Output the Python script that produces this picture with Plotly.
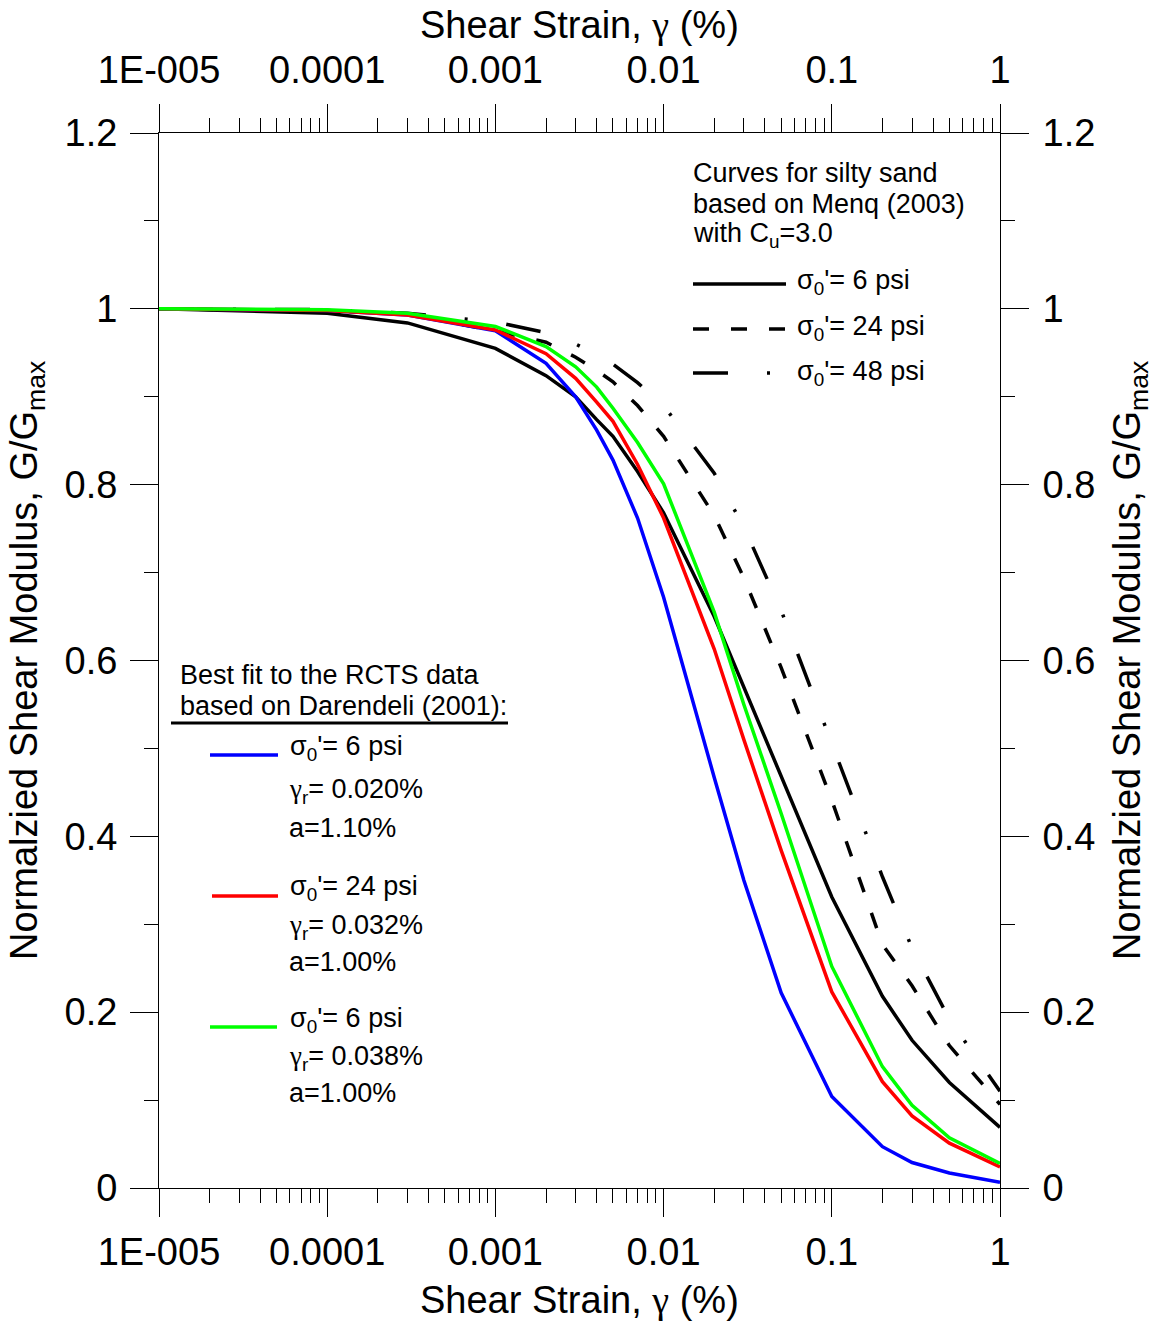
import plotly.graph_objects as go

# Shear strain (%) at which each curve is tabulated
strain = [1e-5, 1e-4, 3e-4, 1e-3, 2e-3, 3e-3, 4e-3, 5e-3, 7e-3, 0.01, 0.02,
          0.03, 0.05, 0.1, 0.2, 0.3, 0.5, 1.0]

# Menq (2003) silty sand curves, Cu = 3.0
menq_6psi = [1.0, 0.995, 0.984, 0.955, 0.924, 0.900, 0.874, 0.855, 0.815, 0.768, 0.650,
             0.570, 0.467, 0.331, 0.218, 0.168, 0.120, 0.069]
menq_24psi = [1.0, 0.998, 0.994, 0.975, 0.962, 0.945, 0.930, 0.917, 0.890, 0.855, 0.765,
              0.694, 0.592, 0.441, 0.277, 0.230, 0.162, 0.095]
menq_48psi = [1.0, 0.999, 0.995, 0.985, 0.973, 0.960, 0.948, 0.937, 0.916, 0.890, 0.813,
              0.752, 0.657, 0.505, 0.354, 0.273, 0.192, 0.110]

# Darendeli (2001) best fits to the RCTS data
fit_6psi = [1.0, 0.998, 0.993, 0.975, 0.938, 0.900, 0.862, 0.828, 0.762, 0.672, 0.467,
            0.350, 0.222, 0.104, 0.047, 0.029, 0.017, 0.0065]
fit_24psi = [1.0, 0.998, 0.993, 0.976, 0.949, 0.921, 0.894, 0.872, 0.823, 0.762, 0.613,
             0.510, 0.384, 0.223, 0.121, 0.082, 0.051, 0.024]
fit_48psi = [1.0, 0.999, 0.995, 0.980, 0.957, 0.934, 0.911, 0.887, 0.848, 0.801, 0.655,
             0.550, 0.426, 0.252, 0.138, 0.094, 0.057, 0.028]

# Axis ticks
x_tick_vals = [1e-5, 1e-4, 1e-3, 1e-2, 1e-1, 1.0]
x_tick_text = ["1E-005", "0.0001", "0.001", "0.01", "0.1", "1"]
x_minor_vals = [m * 10.0 ** e for e in range(-5, 0) for m in range(2, 10)]
y_tick_vals = [0, 0.2, 0.4, 0.6, 0.8, 1.0, 1.2]
y_tick_text = ["0", "0.2", "0.4", "0.6", "0.8", "1", "1.2"]
y_minor_vals = [0.1, 0.3, 0.5, 0.7, 0.9, 1.1]

FONT = "Liberation Sans, Arial, Helvetica, sans-serif"
GAMMA = '<span style="font-family:Liberation Serif, DejaVu Serif, serif">γ</span>'
W, H = 1156, 1325
L, R, T, B = 159, 156, 133, 137
PW, PH = W - L - R, H - T - B


def fx(p):
    return (p - L) / PW


def fy(p):
    return (H - B - p) / PH


LW = 3.5
DASHED = "16px,22px"
DASHDOT = "35px,39px,3px,39px"

fig = go.Figure()

series = [
    (menq_6psi, "black", "solid"),
    (menq_24psi, "black", DASHED),
    (menq_48psi, "black", DASHDOT),
    (fit_6psi, "#0000ff", "solid"),
    (fit_24psi, "#ff0000", "solid"),
    (fit_48psi, "#00ff00", "solid"),
]
for vals, color, dash in series:
    fig.add_trace(go.Scatter(x=strain, y=vals, mode="lines",
                             line=dict(color=color, width=LW, dash=dash),
                             showlegend=False, hoverinfo="skip"))

# carrier for the mirrored top/right axes
fig.add_trace(go.Scatter(x=[], y=[], xaxis="x2", yaxis="y2",
                         showlegend=False, hoverinfo="skip"))

common = dict(showline=True, linecolor="black", linewidth=1, mirror=False,
              ticks="outside", ticklen=28, tickwidth=1, tickcolor="black",
              showgrid=False, zeroline=False,
              tickfont=dict(family=FONT, size=38, color="black"))

x_axis = dict(common, type="log", range=[-5, 0], tickmode="array",
              tickvals=x_tick_vals, ticktext=x_tick_text,
              minor=dict(tickvals=x_minor_vals, ticks="outside", ticklen=14,
                         tickwidth=1, tickcolor="black"))
y_axis = dict(common, range=[0, 1.2], tickmode="array",
              tickvals=y_tick_vals, ticktext=y_tick_text,
              ticklabelstandoff=5,
              minor=dict(tickvals=y_minor_vals, ticks="outside", ticklen=14,
                         tickwidth=1, tickcolor="black"))

fig.update_layout(
    width=W, height=H,
    margin=dict(l=L, r=R, t=T, b=B, pad=0),
    paper_bgcolor="white", plot_bgcolor="white",
    font=dict(family=FONT, color="black"),
    xaxis=dict(x_axis, side="bottom", anchor="y", ticklabelstandoff=2),
    xaxis2=dict(x_axis, side="top", overlaying="x", anchor="y", ticklabelstandoff=6),
    yaxis=dict(y_axis, side="left", anchor="x"),
    yaxis2=dict(y_axis, side="right", overlaying="y", anchor="x", ticklabelstandoff=6),
)

ann = []


def text(px, py, s, size=27, **kw):
    ann.append(dict(x=fx(px), y=fy(py), xref="paper", yref="paper", text=s,
                    showarrow=False, xanchor=kw.get("xanchor", "left"),
                    yanchor="middle", textangle=kw.get("angle", 0),
                    xshift=kw.get("xshift", -3),
                    font=dict(family=FONT, size=size, color="black")))


# axis titles
title_x = "Shear Strain, " + GAMMA + " (%)"
title_y = "Normalzied Shear Modulus, G/G<sub>max</sub>"
text(579.5, 25, title_x, size=38, xanchor="center", xshift=0)
text(579.5, 1300, title_x, size=38, xanchor="center", xshift=0)
text(27, 660, title_y, size=38, xanchor="center", angle=-90, xshift=0)
text(1130, 660, title_y, size=38, xanchor="center", angle=-90, xshift=0)

# Menq key
text(694, 173, "Curves for silty sand")
text(694, 204, "based on Menq (2003)")
text(694, 235, "with C<sub>u</sub>=3.0")
text(798, 282, "σ<sub>0</sub>'= 6 psi")
text(798, 328, "σ<sub>0</sub>'= 24 psi")
text(798, 373, "σ<sub>0</sub>'= 48 psi")

# Darendeli key
text(181, 675, "Best fit to the RCTS data")
text(181, 706, "based on Darendeli (2001):")
text(291, 748, "σ<sub>0</sub>'= 6 psi")
text(290, 791, GAMMA + "<sub>r</sub>= 0.020%")
text(290, 828, "a=1.10%")
text(291, 888, "σ<sub>0</sub>'= 24 psi")
text(290, 927, GAMMA + "<sub>r</sub>= 0.032%")
text(290, 962, "a=1.00%")
text(291, 1020, "σ<sub>0</sub>'= 6 psi")
text(290, 1058, GAMMA + "<sub>r</sub>= 0.038%")
text(290, 1093, "a=1.00%")

fig.update_layout(annotations=ann)

shapes = []


def seg(x0, x1, py, color, dash="solid", width=LW):
    shapes.append(dict(type="line", xref="paper", yref="paper",
                       x0=fx(x0), x1=fx(x1), y0=fy(py), y1=fy(py),
                       line=dict(color=color, width=width, dash=dash)))


seg(693, 786, 284, "black")
seg(693, 786, 329, "black", DASHED)
seg(693, 771, 373, "black", DASHDOT)
seg(171, 508, 723, "black", width=3)
seg(210, 278, 755, "#0000ff")
seg(212, 278, 896, "#ff0000")
seg(210, 277, 1027, "#00ff00")

fig.update_layout(shapes=shapes)

fig.write_html("out.html")
